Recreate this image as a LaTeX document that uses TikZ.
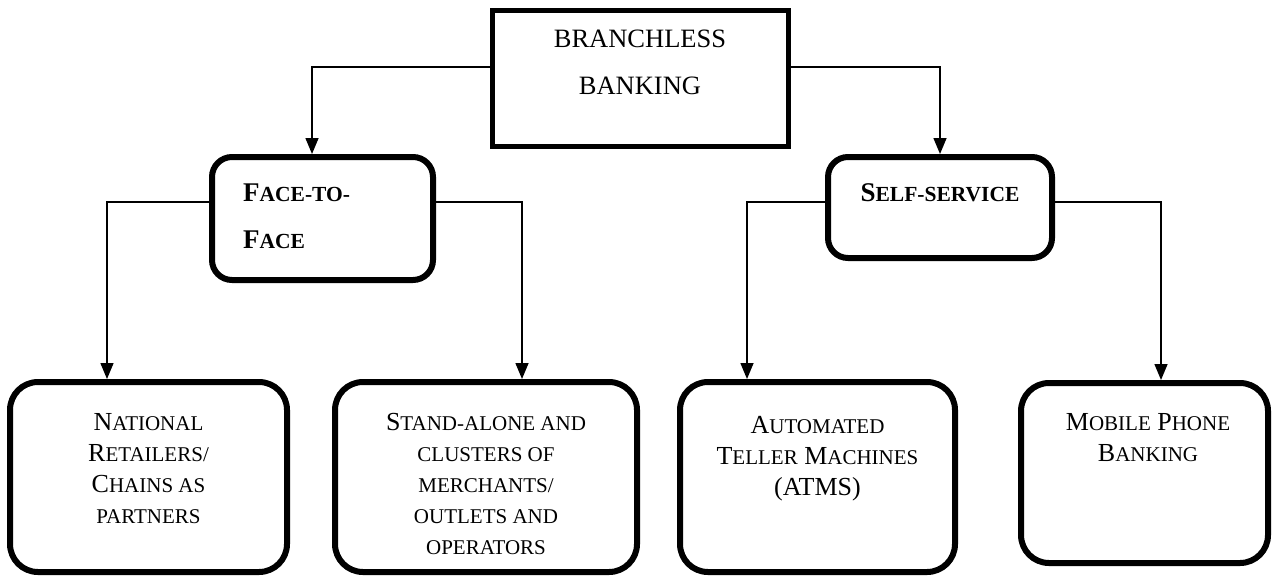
\documentclass[tikz,border=0pt]{standalone}
\usepackage{fontspec}
\setmainfont{Liberation Serif}
\usetikzlibrary{arrows.meta,calc}
\newcommand\sm[1]{{\fontsize{21}{31}\selectfont #1}}
\newcommand\smb[1]{{\fontsize{21.5}{31}\selectfont #1}}
\begin{document}
\begin{tikzpicture}[x=1pt,y=-1pt,
  sqbox/.style={draw, line width=5pt, inner sep=0pt},
  rbox/.style={draw, line width=6pt, rounded corners=28pt, inner sep=0pt},
  mbox/.style={draw, line width=6pt, rounded corners=20pt, inner sep=0pt},
  conn/.style={line width=1.5pt, -{Triangle[width=13pt,length=16pt]}},
  txt/.style={inner sep=0pt, align=center, font=\fontsize{26}{31}\selectfont}
]
\useasboundingbox[fill=white] (0,0) rectangle (1273,576);

% boxes
\node[sqbox, minimum width=296pt, minimum height=136pt] (top) at (640,78) {};
\node[mbox, minimum width=221pt, minimum height=123pt] (face) at (322.5,218.5) {};
\node[mbox, minimum width=224pt, minimum height=101pt] (self) at (940,207.5) {};
\node[rbox, minimum width=277pt, minimum height=190pt] (b1) at (148.5,477) {};
\node[rbox, minimum width=302pt, minimum height=190pt] (b2) at (486,477) {};
\node[rbox, minimum width=275pt, minimum height=190pt] (b3) at (817.5,477) {};
\node[rbox, minimum width=247pt, minimum height=180pt] (b4) at (1144.5,473) {};

% texts
\node[txt, anchor=north, font=\fontsize{26.5}{47}\selectfont] (t0) at (640,30) {BRANCHLESS\\BANKING};
\node[inner sep=0pt, align=left, anchor=north west, font=\bfseries\fontsize{27}{47}\selectfont] (t1) at (243,184) {F\smb{ACE-TO-}\\F\smb{ACE}};
\node[inner sep=0pt, font=\bfseries\fontsize{27}{31}\selectfont] (t2) at (940,193) {S\smb{ELF-SERVICE}};
\node[txt, anchor=north] (t3) at (148.5,413) {N\sm{ATIONAL}\\R\sm{ETAILERS/}\\C\sm{HAINS AS}\\\sm{PARTNERS}};
\node[txt, anchor=north] (t4) at (486,413) {S\sm{TAND-ALONE AND}\\\sm{CLUSTERS OF}\\\sm{MERCHANTS/}\\\sm{OUTLETS AND}\\\sm{OPERATORS}};
\node[txt, anchor=north] (t5) at (817.5,416) {A\sm{UTOMATED}\\T\sm{ELLER} M\sm{ACHINES}\\(ATMS)};
\node[txt, anchor=north] (t6) at (1148,413) {M\sm{OBILE} P\sm{HONE}\\B\sm{ANKING}};

% connector bends
\coordinate (c1) at (312,67);
\coordinate (c2) at (940,67);
\coordinate (d1) at (107,202);
\coordinate (d2) at (522,202);
\coordinate (d3) at (747,202);
\coordinate (d4) at (1161,202);

\draw[conn] (top.west |- c1) -| (c1 |- face.north);
\draw[conn] (top.east |- c2) -| (c2 |- self.north);
\draw[conn] (face.west |- d1) -| (d1 |- b1.north);
\draw[conn] (face.east |- d2) -| (d2 |- b2.north);
\draw[conn] (self.west |- d3) -| (d3 |- b3.north);
\draw[conn] (self.east |- d4) -| (d4 |- b4.north);
\end{tikzpicture}
\end{document}
